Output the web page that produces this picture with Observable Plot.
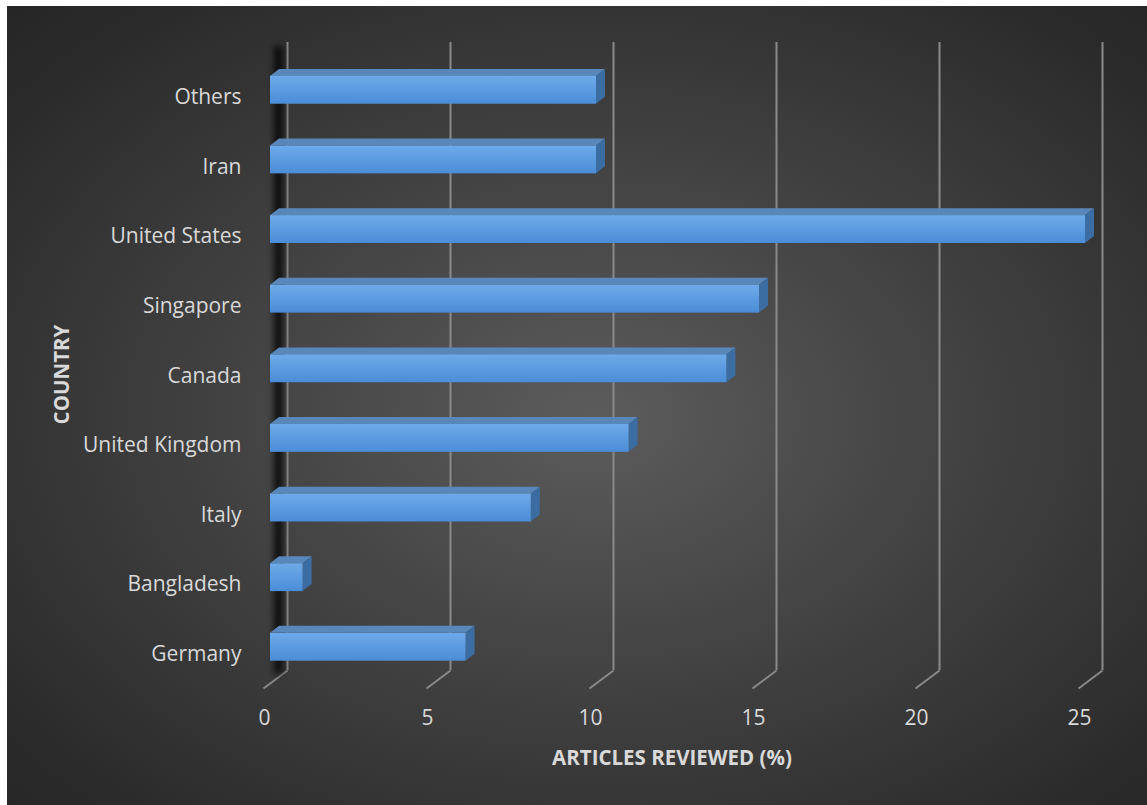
<!DOCTYPE html>
<html>
<head>
<meta charset="utf-8">
<script src="https://cdn.jsdelivr.net/npm/d3@7"></script>
<script src="https://cdn.jsdelivr.net/npm/@observablehq/plot@0.6"></script>
<style>
  html, body { margin: 0; padding: 0; background: #ffffff; }
  #chart svg { display: block; }
</style>
</head>
<body>
<div id="chart"></div>
<script>
// ---- data (bottom to top) ----
const countries = ["Germany", "Bangladesh", "Italy", "United Kingdom", "Canada", "Singapore", "United States", "Iran", "Others"];
const articles = [6, 1, 8, 11, 14, 15, 25, 10, 10];
const xTicks = [0, 5, 10, 15, 20, 25];
const xLabel = "ARTICLES REVIEWED (%)";
const yLabel = "COUNTRY";

// ---- layout ----
const W = 1147, H = 805;
const mL = 270, mR = 62, mT = 55, mB = 122;
const xDomain = [0, 25];
const yDomain = [-0.52, 8.5];
const pxX = (W - mL - mR) / (xDomain[1] - xDomain[0]);
const pxY = (H - mT - mB) / (yDomain[1] - yDomain[0]);
const HALF = 0.2;              // half bar thickness (category units)
const DX = 9 / pxX, DY = 7 / pxY;   // bar depth
const BACK_X = 17 / pxX, BACK_Y = 13 / pxY;  // back wall offset
const FRONT_X = -7 / pxX, FRONT_Y = -5 / pxY; // floor front offset

const bars = countries.map((c, i) => ({country: c, i, v: articles[i]}));
const topRows = bars.flatMap(d => [
  {i: d.i, y: d.i + HALF, x1: 0, x2: d.v},
  {i: d.i, y: d.i + HALF + DY, x1: DX, x2: d.v + DX}
]);
const sideRows = bars.flatMap(d => [
  {i: d.i, x: d.v, y1: d.i - HALF, y2: d.i + HALF},
  {i: d.i, x: d.v + DX, y1: d.i - HALF + DY, y2: d.i + HALF + DY}
]);
const floorLinks = xTicks.map(t => ({
  x1: t + BACK_X, y1: yDomain[0] + BACK_Y,
  x2: t + FRONT_X, y2: yDomain[0] + FRONT_Y
}));

const textColor = "#d9d9d9";
const gridColor = "#8a8a8a";

const plot = Plot.plot({
  width: W,
  height: H,
  marginLeft: mL,
  marginRight: mR,
  marginTop: mT,
  marginBottom: mB,
  style: {
    fontFamily: "'Open Sans', sans-serif",
    fontSize: "21px",
    color: textColor,
    background: "radial-gradient(ellipse farthest-corner at 52% 52%, #5c5c5c 0%, #474747 35%, #2b2b2b 85%, #252525 100%)",
    boxShadow: "inset 7px 6px 0 0 #ffffff"
  },
  x: {domain: xDomain},
  y: {domain: yDomain},
  marks: [
    // back wall gridlines
    Plot.ruleX(xTicks, {x: d => d, y1: yDomain[0], y2: yDomain[1], dx: 17, dy: -13, stroke: gridColor, strokeWidth: 2}),
    // floor diagonals
    Plot.link(floorLinks, {x1: "x1", y1: "y1", x2: "x2", y2: "y2", stroke: gridColor, strokeWidth: 2}),
    // side-wall shadow
    Plot.ruleX([0], {y1: yDomain[0], y2: yDomain[1], dx: 8, dy: -9, stroke: "#000000", strokeWidth: 8, strokeOpacity: 0.9, ariaDescription: "wallshadow"}),
    // bar top faces
    Plot.areaX(topRows, {y: "y", x1: "x1", x2: "x2", z: "i", fill: "#5a87ba", curve: "linear"}),
    // bar side faces
    Plot.areaY(sideRows, {x: "x", y1: "y1", y2: "y2", z: "i", fill: "#3b6ca2", curve: "linear"}),
    // bar front faces
    Plot.rect(bars, {x1: d => 0, x2: "v", y1: d => d.i - HALF, y2: d => d.i + HALF, fill: "url(#barGrad)"}),
    // axes
    Plot.axisX({ticks: xTicks, tickSize: 0, tickPadding: 27, dx: -6, label: null, fontSize: 21}),
    Plot.axisY({ticks: d3.range(countries.length), tickFormat: i => countries[i], tickSize: 0, tickPadding: 29, dy: 7, label: null, fontSize: 21}),
    // axis titles
    Plot.text([xLabel], {text: d => d, frameAnchor: "bottom", textAnchor: "middle", dx: -6, dy: 75, lineAnchor: "middle", fontWeight: "bold", fontSize: 20.5, fill: textColor}),
    Plot.text([yLabel], {text: d => d, frameAnchor: "left", textAnchor: "middle", rotate: -90, dx: -208, dy: 5, lineAnchor: "middle", fontWeight: "bold", fontSize: 20.5, fill: textColor})
  ]
});

const svg = d3.select(plot);
const defs = svg.insert("defs", ":first-child");
const g = defs.append("linearGradient").attr("id", "barGrad").attr("x1", 0).attr("y1", 0).attr("x2", 0).attr("y2", 1);
g.append("stop").attr("offset", "0%").attr("stop-color", "#6eaaea");
g.append("stop").attr("offset", "100%").attr("stop-color", "#4a8dd7");
const f = defs.append("filter").attr("id", "blur").attr("filterUnits", "userSpaceOnUse")
  .attr("x", 0).attr("y", 0).attr("width", W).attr("height", H);
f.append("feGaussianBlur").attr("stdDeviation", 3.5);
svg.selectAll("g").filter(function() {
  return this.getAttribute("aria-description") === "wallshadow" || this.getAttribute("stroke-width") === "8";
}).attr("filter", "url(#blur)");

document.getElementById("chart").appendChild(plot);
</script>
</body>
</html>
